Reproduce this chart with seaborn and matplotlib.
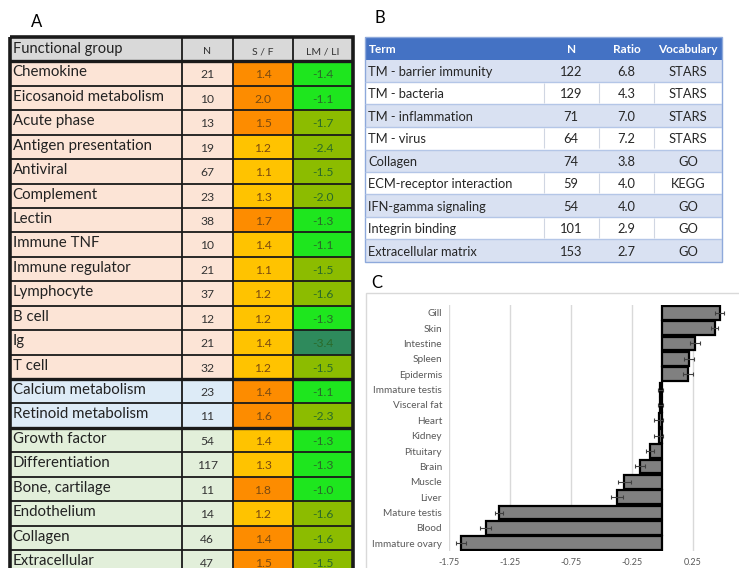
import numpy as np
import matplotlib.pyplot as plt
from matplotlib.colors import ListedColormap
from matplotlib.patches import Rectangle
import seaborn as sns

plt.rcParams['font.family'] = ['Lato', 'DejaVu Sans']

# ---- Panel A: functional groups ----
groups = ["Chemokine", "Eicosanoid metabolism", "Acute phase", "Antigen presentation",
          "Antiviral", "Complement", "Lectin", "Immune TNF", "Immune regulator",
          "Lymphocyte", "B cell", "Ig", "T cell", "Calcium metabolism",
          "Retinoid metabolism", "Growth factor", "Differentiation", "Bone, cartilage",
          "Endothelium", "Collagen", "Extracellular"]
group_n = [21, 10, 13, 19, 67, 23, 38, 10, 21, 37, 12, 21, 32, 23, 11, 54, 117, 11, 14, 46, 47]
sf = [1.4, 2.0, 1.5, 1.2, 1.1, 1.3, 1.7, 1.4, 1.1, 1.2, 1.2, 1.4, 1.2,
      1.4, 1.6, 1.4, 1.3, 1.8, 1.2, 1.4, 1.5]
lmli = [-1.4, -1.1, -1.7, -2.4, -1.5, -2.0, -1.3, -1.1, -1.5, -1.6, -1.3, -3.4, -1.5,
        -1.1, -2.3, -1.3, -1.3, -1.0, -1.6, -1.6, -1.5]
group_class = ["immune"] * 13 + ["metab"] * 2 + ["tissue"] * 6
sf_level = list("oooyyyoyyyyyyooyyoyoo")      # o = orange, y = yellow
lmli_level = list("llggggllggldglglllggg")    # l = lime, g = olive, d = dark green
headers_a = ["Functional group", "N", "S / F", "LM / LI"]

# ---- Panel B: enriched terms ----
terms = ["TM - barrier immunity", "TM - bacteria", "TM - inflammation", "TM - virus",
         "Collagen", "ECM-receptor interaction", "IFN-gamma signaling",
         "Integrin binding", "Extracellular matrix"]
term_n = [122, 129, 71, 64, 74, 59, 54, 101, 153]
ratio = [6.8, 4.3, 7.0, 7.2, 3.8, 4.0, 4.0, 2.9, 2.7]
vocab = ["STARS", "STARS", "STARS", "STARS", "GO", "KEGG", "GO", "GO", "GO"]
headers_b = ["Term", "N", "Ratio", "Vocabulary"]

# ---- Panel C: tissues ----
tissues = ["Gill", "Skin", "Intestine", "Spleen", "Epidermis", "Immature testis",
           "Visceral fat", "Heart", "Kidney", "Pituitary", "Brain", "Muscle", "Liver",
           "Mature testis", "Blood", "Immature ovary"]
tissue_vals = [0.47, 0.43, 0.27, 0.22, 0.21, -0.015, -0.015, -0.03, -0.03, -0.10,
               -0.18, -0.31, -0.37, -1.34, -1.45, -1.65]
tissue_err = [0.035, 0.03, 0.04, 0.04, 0.04, 0.02, 0.02, 0.035, 0.035, 0.035,
              0.04, 0.05, 0.05, 0.03, 0.045, 0.04]

W, H = 739, 568
fig = plt.figure(figsize=(W / 100, H / 100), dpi=100)

# ================= Panel A =================
pal_a = {"head": "#d9d9d9", "immune": "#fce4d6", "metab": "#ddebf7", "tissue": "#e2efda",
         "o": "#fd8c00", "y": "#ffc300", "l": "#1ee61e", "g": "#8cbc00", "d": "#2e8a5c"}
keys_a = list(pal_a)
widths_a = [40, 12, 14, 14]
edges_a = np.concatenate([[0], np.cumsum(widths_a)])
cells_a = [["head"] * 4] + [[c, c, s, l] for c, s, l in zip(group_class, sf_level, lmli_level)]
codes_a = np.repeat(np.array([[keys_a.index(k) for k in r] for r in cells_a]), widths_a, axis=1)

row_h = 24.43
nrow_a = len(cells_a)
axA = fig.add_axes([10 / W, 1 - (37 + nrow_a * row_h) / H, 343 / W, nrow_a * row_h / H])
sns.heatmap(codes_a, cmap=ListedColormap(list(pal_a.values())), vmin=-0.5,
            vmax=len(keys_a) - 0.5, cbar=False, xticklabels=False, yticklabels=False, ax=axA)
axA.hlines(np.arange(1, nrow_a), 0, edges_a[-1], color="#1a1a1a", lw=1.3)
axA.hlines([1, 14, 16], 0, edges_a[-1], color="#1a1a1a", lw=2.4)
axA.vlines(edges_a[1:-1], 0, nrow_a, color="#1a1a1a", lw=1.3)
axA.add_patch(Rectangle((0, 0), edges_a[-1], nrow_a, fill=False, ec="#1a1a1a", lw=2.6, clip_on=False))

mid_a = (edges_a[:-1] + edges_a[1:]) / 2
axA.text(0.6, 0.5, headers_a[0], ha="left", va="center", fontsize=10.5, color="#222222")
for j in range(1, 4):
    axA.text(mid_a[j], 0.6, headers_a[j], ha="center", va="center", fontsize=7.5, color="#333333")
for i, (g, n, s, l) in enumerate(zip(groups, group_n, sf, lmli)):
    y = i + 1.5
    axA.text(0.6, y - 0.05, g, ha="left", va="center", fontsize=10.8, color="#222222")
    axA.text(mid_a[1], y + 0.05, str(n), ha="center", va="center", fontsize=8.7, color="#333333")
    axA.text(mid_a[2], y + 0.05, f"{s:.1f}", ha="center", va="center", fontsize=8.7, color="#7a4a10")
    axA.text(mid_a[3], y + 0.05, f"{l:.1f}", ha="center", va="center", fontsize=8.7, color="#2a6a2a")
fig.text(37 / W, 1 - 22 / H, "A", ha="center", va="center", fontsize=12)

# ================= Panel B =================
pal_b = {"head": "#4472c4", "band": "#d9e1f2", "white": "#ffffff"}
keys_b = list(pal_b)
widths_b = [42, 13, 13, 16]
edges_b = np.concatenate([[0], np.cumsum(widths_b)])
cells_b = [["head"] * 4] + [["band" if i % 2 == 0 else "white"] * 4 for i in range(len(terms))]
codes_b = np.repeat(np.array([[keys_b.index(k) for k in r] for r in cells_b]), widths_b, axis=1)
nrow_b = len(cells_b)
axB = fig.add_axes([365 / W, 1 - 262 / H, 357 / W, 225 / H])
sns.heatmap(codes_b, cmap=ListedColormap(list(pal_b.values())), vmin=-0.5,
            vmax=len(keys_b) - 0.5, cbar=False, xticklabels=False, yticklabels=False, ax=axB)
axB.hlines(np.arange(2, nrow_b), 0, edges_b[-1], color="#b4c6e7", lw=1.0)
for i in range(len(terms)):
    if i % 2 == 1:
        axB.vlines(edges_b[1:-1], i + 1.05, i + 1.95, color="#d0d6e2", lw=0.8)
axB.add_patch(Rectangle((0, 0), edges_b[-1], nrow_b, fill=False, ec="#8ea9db", lw=1.0, clip_on=False))
mid_b = (edges_b[:-1] + edges_b[1:]) / 2
axB.text(0.8, 0.55, headers_b[0], ha="left", va="center", fontsize=8.5, color="white", fontweight="bold")
for j in range(1, 4):
    axB.text(mid_b[j], 0.55, headers_b[j], ha="center", va="center", fontsize=8.5,
             color="white", fontweight="bold")
for i, (t, n, r, v) in enumerate(zip(terms, term_n, ratio, vocab)):
    y = i + 1.55
    axB.text(0.8, y, t, ha="left", va="center", fontsize=9.3, color="#262626")
    axB.text(mid_b[1], y, str(n), ha="center", va="center", fontsize=9.3, color="#262626")
    axB.text(mid_b[2], y, f"{r:.1f}", ha="center", va="center", fontsize=9.3, color="#262626")
    axB.text(mid_b[3], y, v, ha="center", va="center", fontsize=9.3, color="#262626")
fig.text(380 / W, 1 - 18 / H, "B", ha="center", va="center", fontsize=12)

# ================= Panel C =================
fig.patches.append(Rectangle((366 / W, -0.02), 0.6, 1 - 293 / H + 0.02, transform=fig.transFigure,
                             fill=False, ec="#d9d9d9", lw=1.0))
fig.text(377 / W, 1 - 283 / H, "C", ha="center", va="center", fontsize=12)
axC = fig.add_axes([449 / W, 1 - 551 / H, 290 / W, 246 / H])
sns.barplot(x=tissue_vals, y=tissues, orient="h", color="#808080", saturation=1, width=0.9,
            edgecolor="black", linewidth=1.6, errorbar=None, ax=axC)
axC.errorbar(tissue_vals, np.arange(len(tissues)), xerr=tissue_err, fmt="none",
             ecolor="#404040", elinewidth=0.8, capsize=1.5, capthick=0.8)
axC.set_xlim(-1.75, 0.63)
axC.set_ylim(len(tissues) - 0.5, -0.5)
ticks_c = [-1.75, -1.25, -0.75, -0.25, 0.25]
axC.set_xticks(ticks_c)
axC.set_xticklabels([f"{t:.2f}" for t in ticks_c])
axC.set_axisbelow(True)
axC.xaxis.grid(True, color="#d9d9d9", lw=1.0)
for sp in axC.spines.values():
    sp.set_visible(False)
axC.tick_params(axis="x", length=0, labelsize=6.5, labelcolor="#595959", pad=5)
axC.tick_params(axis="y", length=0, labelsize=7.2, labelcolor="#595959", pad=5)
axC.set_xlabel("")
axC.set_ylabel("")

fig.savefig("out.png", dpi=100)
